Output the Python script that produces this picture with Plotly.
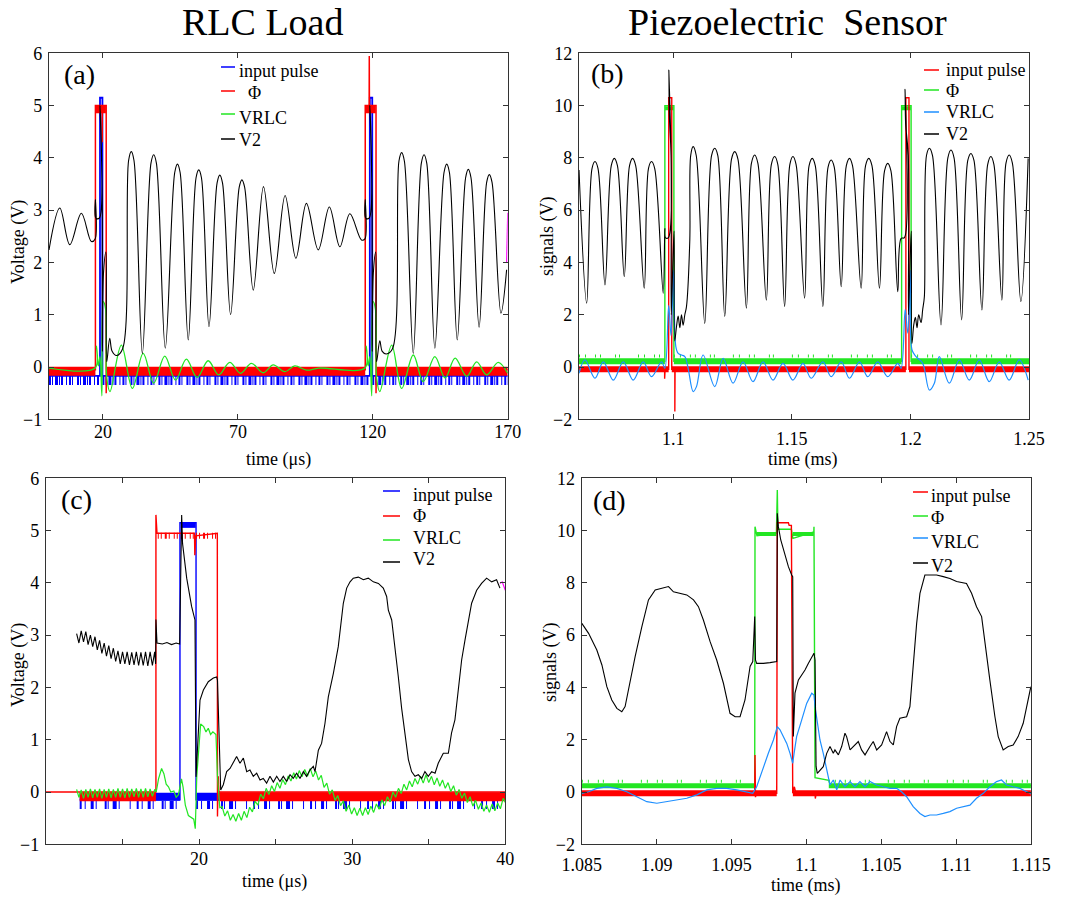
import plotly.graph_objects as go

FONT = "Liberation Serif, 'Times New Roman', Times, 'DejaVu Serif', serif"
W, H = 1070, 898

BLUE = "#0000ff"
RED = "#ff0000"
GREEN = "#22e622"
SKY = "#1e8fff"
BLACK = "#000000"
MAGENTA = "#ff00ff"

# ---------------------------------------------------------------- panel (a)
# RLC load, time in microseconds
a_v2_t = [0.0, 4.0, 7.7, 12.0, 15.7, 17.1, 17.2, 17.35, 18.7, 18.9, 19.7, 19.8, 20.2, 21.1,
          21.4, 22.5, 23.4, 25.0, 27.3, 29.5, 30.5, 31.5, 34.6, 37.8, 38.8, 39.8, 43.1, 46.6,
          47.6, 48.6, 51.6, 54.5, 55.5, 56.5, 59.3, 62.3, 63.3, 64.3, 67.3, 70.5, 71.5, 72.5,
          75.7, 79.5, 83.5, 87.5, 91.5, 95.4, 99.8, 103.9, 107.8, 111.5, 115.8,
          117.1, 117.2, 117.35, 118.7, 118.9, 119.7, 119.8, 120.2, 121.1, 121.4, 122.6, 123.5,
          125.0, 127.3, 129.7, 130.7, 131.7, 135.0, 138.0, 139.0, 140.0, 143.0, 146.4, 147.4,
          148.4, 151.3, 154.4, 155.4, 156.4, 159.4, 162.2, 163.2, 164.2, 167.5, 169.6]
a_v2_v = [2.24, 3.04, 2.34, 2.94, 2.40, 2.45, 3.2, 2.85, 2.85, 5.0, 3.3, 0.3, 1.8, 2.2,
          0.1, 0.55, 0.3, 0.22, 0.35, 3.95, 4.12, 3.95, 0.26, 3.9, 4.06, 3.9, 0.36, 3.72,
          3.88, 3.72, 0.52, 3.62, 3.77, 3.62, 0.77, 3.52, 3.67, 3.52, 1.00, 3.44, 3.58, 3.44,
          1.47, 3.45, 1.79, 3.28, 2.08, 3.13, 2.24, 3.06, 2.30, 2.93, 2.43,
          2.45, 3.2, 2.85, 2.85, 5.0, 3.3, 0.3, 1.8, 2.2, 0.1, 0.5, 0.3,
          0.25, 0.35, 3.94, 4.10, 3.94, 0.26, 3.9, 4.06, 3.9, 0.36, 3.72, 3.88,
          3.72, 0.52, 3.62, 3.78, 3.62, 0.76, 3.53, 3.68, 3.53, 1.03, 1.86]
a_tail_t = [169.6, 170.0]
a_tail_v = [2.0, 2.95]

a_vrlc_t = [0.0, 17.1, 17.6, 18.3, 18.9, 19.6, 20.1, 21.0, 21.4, 22.6, 26.8, 30.9, 34.9, 38.8,
            42.9, 46.9, 50.9, 54.9, 59.0, 62.9, 67.0, 71.0, 75.0, 79.4, 83.1, 87.4, 91.1, 95.5,
            100.0, 117.1, 117.6, 118.3, 118.9, 119.6, 120.1, 121.0, 121.4, 122.6, 127.0, 130.7,
            135.0, 138.7, 143.0, 146.8, 150.5, 154.8, 158.5, 162.2, 166.5, 170.0]
a_vrlc_v = [-0.02, -0.02, 0.4, 0.02, 0.2, -0.55, 1.25, 1.1, -0.2, -0.47, 0.42, -0.41, 0.26, -0.31,
            0.21, -0.25, 0.15, -0.2, 0.12, -0.15, 0.09, -0.12, 0.07, -0.11, 0.04, -0.09, 0.02, -0.06,
            -0.02, -0.02, 0.4, 0.02, 0.2, -0.55, 1.25, 1.1, -0.2, -0.47, 0.42, -0.41,
            0.23, -0.28, 0.2, -0.21, 0.17, -0.18, 0.1, -0.15, 0.09, -0.12]

a_phi_t = [0.0, 17.2, 17.2, 19.7, 19.72, 19.76, 21.2, 21.2, 21.25, 21.3, 117.2, 117.2, 118.65,
           118.7, 118.75, 121.2, 121.2, 121.25, 121.3, 170.0]
a_phi_v = [-0.05, -0.05, 5.0, 5.0, 4.3, 5.0, 5.0, -0.5, 0.3, -0.05, -0.05, 5.0, 5.0,
           5.95, 5.0, 5.0, -0.5, 0.3, -0.05, -0.05]
a_phi_low = -0.08
a_phi_low_spans = [(0.0, 17.2), (21.3, 117.2), (121.3, 170.0)]
a_phi_high = 4.93
a_phi_high_spans = [(17.4, 21.1), (117.4, 121.1)]

a_in_t = [0.0, 18.9, 18.9, 19.8, 19.8, 118.9, 118.9, 119.8, 119.8, 170.0]
a_in_v = [-0.17, -0.17, 5.15, 5.15, -0.17, -0.17, 5.15, 5.15, -0.17, -0.17]
a_in_noise = -0.26
a_in_noise_spans = [(0.0, 18.9), (19.8, 118.9), (119.8, 170.0)]

# ---------------------------------------------------------------- panel (b)
# piezoelectric sensor, time in milliseconds
b_v2_t = [1.06031, 1.06353, 1.0658, 1.06704, 1.0683, 1.07125, 1.0739, 1.07518, 1.0765, 1.07938,
          1.0816, 1.08289, 1.0842, 1.0878, 1.0896, 1.09088, 1.0922, 1.09579,
          1.09649, 1.0967, 1.0980, 1.09818, 1.0984, 1.0991, 1.09918, 1.1000, 1.1004, 1.10065,
          1.1014, 1.1021, 1.1028, 1.1035, 1.1042, 1.10491, 1.10561, 1.10701, 1.1074, 1.10842,
          1.1097, 1.11332, 1.1162, 1.11753, 1.1188, 1.12174, 1.1246, 1.12595, 1.1273, 1.13086,
          1.1330, 1.13436, 1.1357, 1.13927, 1.1414, 1.14278, 1.1441, 1.14698, 1.1492, 1.15049,
          1.1518, 1.1554, 1.1573, 1.15862, 1.1599, 1.16311, 1.1653, 1.16662, 1.1679, 1.17083,
          1.1730, 1.17433, 1.1756, 1.17924, 1.1811, 1.18247, 1.1838, 1.18696, 1.1891, 1.19046,
          1.1918, 1.19467,
          1.19607, 1.1975, 1.19775, 1.1980, 1.1991, 1.19918, 1.2000, 1.2004, 1.20065, 1.2014,
          1.2021, 1.2028, 1.2035, 1.20449, 1.20519, 1.20589, 1.2068, 1.208, 1.2093, 1.2129,
          1.2158, 1.21711, 1.2184, 1.2216, 1.2242, 1.22552, 1.2268, 1.23015, 1.2326, 1.23394,
          1.2352, 1.23857, 1.2403, 1.24165, 1.2430, 1.24656, 1.24964]
b_v2_v = [7.54, 2.44, 7.6, 7.86, 7.6, 3.14, 7.7, 7.98, 7.7, 3.46,
          7.7, 7.98, 7.7, 3.01, 7.6, 7.86, 7.6, 2.82,
          5.3, 4.95, 4.95, 11.36, 9.6, 8.1, 2.0, 4.4, 5.2, 1.0,
          1.55, 1.95, 1.5, 2.0, 1.6, 2.0, 2.31, 4.86, 8.1, 8.43,
          8.1, 1.67, 8.1, 8.37, 8.1, 1.93, 7.95, 8.24, 7.95, 2.25,
          7.8, 8.11, 7.8, 2.56, 7.75, 8.05, 7.75, 2.31, 7.75, 8.05,
          7.75, 2.63, 7.7, 7.98, 7.7, 2.31, 7.65, 7.92, 7.65, 3.07,
          7.7, 7.98, 7.7, 3.01, 7.7, 7.98, 7.7, 3.01, 7.5, 7.79,
          7.5, 2.88,
          4.92, 4.95, 10.62, 9.3, 8.1, 2.0, 4.4, 5.2, 0.9, 1.6,
          1.9, 1.5, 2.0, 1.7, 2.2, 2.69, 8.1, 8.37, 8.1, 1.61,
          8.0, 8.3, 8.0, 1.8, 7.9, 8.17, 7.9, 2.18, 7.75, 8.05,
          7.75, 2.56, 7.8, 8.11, 7.8, 2.5, 7.98]

b_vrlc_t = [1.06031, 1.06283, 1.06704, 1.07055, 1.07476, 1.07896, 1.08317, 1.08738, 1.09088, 1.09509,
            1.09649, 1.0981, 1.0991, 1.1002, 1.10112, 1.1021, 1.10351, 1.10491, 1.10631, 1.10842,
            1.10982, 1.11262, 1.11753, 1.12104, 1.12525, 1.12945, 1.13366, 1.13787, 1.14208, 1.14628,
            1.15049, 1.1547, 1.1582, 1.16311, 1.16662, 1.17083, 1.17433, 1.17854, 1.18205, 1.18625,
            1.19046, 1.19467, 1.19607, 1.1978, 1.1989, 1.2000, 1.2007, 1.20238, 1.20519, 1.208,
            1.2101, 1.2122, 1.21641, 1.22062, 1.22482, 1.22903, 1.23324, 1.23745, 1.24165, 1.24586,
            1.24964]
b_vrlc_v = [-0.24, 0.27, -0.43, 0.2, -0.5, 0.2, -0.5, 0.2, -0.37, 0.2,
            -0.05, 2.35, 1.2, 3.7, 0.78, 0.52, 0.46, 0.4, -0.05, -0.94,
            -0.75, 0.46, -0.75, 0.33, -0.62, 0.2, -0.56, 0.2, -0.5, 0.14,
            -0.5, 0.14, -0.43, 0.2, -0.37, 0.2, -0.43, 0.2, -0.37, 0.2,
            -0.37, 0.14, -0.05, 2.2, 1.3, 3.7, 0.65, 0.4, 0.14, -0.88,
            -0.62, 0.4, -0.62, 0.27, -0.5, 0.27, -0.56, 0.2, -0.5, 0.27,
            -0.5]

b_phi_t = [1.06031, 1.0965, 1.0965, 1.1003, 1.1003, 1.1963, 1.1963, 1.2003, 1.2003, 1.25]
b_phi_v = [0.22, 0.22, 10.0, 10.0, 0.22, 0.22, 10.0, 10.0, 0.22, 0.22]
b_phi_low = 0.22
b_phi_low_spans = [(1.06031, 1.0965), (1.1003, 1.1963), (1.2003, 1.25)]
b_phi_high = 9.9
b_phi_high_spans = [(1.0966, 1.1002), (1.1964, 1.2002)]

b_in_t = [1.06031, 1.0964, 1.0964, 1.0966, 1.0981, 1.0981, 1.0994, 1.0994, 1.1007, 1.1007, 1.1008,
          1.1981, 1.1981, 1.1994, 1.1994, 1.25]
b_in_v = [-0.09, -0.09, -0.45, -0.09, -0.09, 10.3, 10.3, -0.09, -0.09, -1.7, -0.09,
          -0.09, 10.3, 10.3, -0.09, -0.09]
b_in_low = -0.09
b_in_low_spans = [(1.06031, 1.0981), (1.0994, 1.1981), (1.1994, 1.25)]

# ---------------------------------------------------------------- panel (c)
# RLC load, detail around the first pulse (microseconds)
c_v2_t = [12.0, 12.15, 12.3, 12.45, 12.6, 12.75, 12.9, 13.05, 13.2, 13.35, 13.5, 13.65, 13.8, 13.95,
          14.1, 14.25, 14.4, 14.55, 14.7, 14.85, 15.0, 15.15, 15.3, 15.45, 15.6, 15.75, 15.9, 16.05,
          16.2, 16.35, 16.5, 16.65, 16.8, 16.95, 17.1, 17.16, 17.18, 17.25, 17.6, 17.9, 18.2, 18.5,
          18.73, 18.86, 18.92, 19.19, 19.51, 19.73, 19.8, 19.95, 20.06, 20.28, 20.6, 20.93, 21.15,
          21.2, 21.26, 21.41, 21.58, 21.80, 22.02, 22.24, 22.45, 22.67, 22.89, 23.11, 23.32, 23.54,
          23.76, 23.98, 24.19, 24.41, 24.63, 24.85, 25.07, 25.28, 25.50, 25.72, 25.94, 26.15, 26.37,
          26.59, 26.81, 27.02, 27.24, 27.46, 27.57, 27.79, 28.00, 28.22, 28.44, 28.77, 29.09, 29.42,
          29.64, 29.86, 30.07, 30.40, 30.73, 31.05, 31.38, 31.71, 32.03, 32.25, 32.36, 32.58, 32.79,
          33.01, 33.23, 33.45, 33.67, 33.88, 34.10, 34.32, 34.54, 34.75, 34.97, 35.19, 35.41, 35.62,
          35.95, 36.28, 36.49, 36.71, 36.93, 37.15, 37.37, 37.58, 37.80, 38.13, 38.45, 38.78, 39.11,
          39.43, 39.65]
c_v2_v = [3.03, 2.85, 3.08, 2.87, 3.07, 2.82, 3.0, 2.78, 2.97, 2.72, 2.9, 2.65, 2.85, 2.6,
          2.8, 2.55, 2.75, 2.5, 2.7, 2.45, 2.68, 2.45, 2.68, 2.43, 2.67, 2.43, 2.68, 2.42,
          2.67, 2.42, 2.68, 2.41, 2.68, 2.42, 2.68, 2.45, 3.3, 2.85, 2.83, 2.86, 2.82, 2.85,
          2.83, 5.3, 4.75, 4.09, 3.55, 3.29, 0.29, 1.25, 1.76, 1.95, 2.11, 2.18, 2.2,
          2.14, 1.4, 0.04, 0.14, 0.39, 0.45, 0.58, 0.68, 0.55, 0.65, 0.39, 0.42, 0.30,
          0.36, 0.23, 0.26, 0.17, 0.30, 0.19, 0.30, 0.20, 0.30, 0.20, 0.33, 0.26, 0.36,
          0.26, 0.39, 0.30, 0.42, 0.49, 0.39, 0.80, 0.93, 1.31, 1.82, 2.27, 2.78, 3.61,
          3.90, 4.02, 4.09, 4.11, 4.06, 4.09, 4.02, 3.99, 3.90, 3.74, 3.48, 3.29, 2.81,
          2.21, 1.60, 1.13, 0.62, 0.39, 0.30, 0.33, 0.26, 0.39, 0.30, 0.39, 0.36, 0.55,
          0.74, 0.74, 1.13, 1.38, 2.02, 2.53, 2.91, 3.29, 3.61, 3.86, 3.99, 4.09, 4.02,
          4.06, 3.90]
c_tail_t = [39.65, 39.8, 40.0]
c_tail_v = [3.99, 4.02, 3.86]

c_vrlc_t = [12.0, 12.15, 12.3, 12.45, 12.6, 12.75, 12.9, 13.05, 13.2, 13.35, 13.5, 13.65, 13.8, 13.95,
            14.1, 14.25, 14.4, 14.55, 14.7, 14.85, 15.0, 15.15, 15.3, 15.45, 15.6, 15.75, 15.9, 16.05,
            16.2, 16.35, 16.5, 16.65, 16.8, 16.95, 17.1, 17.2, 17.35, 17.55, 17.7, 17.85, 18.0, 18.15,
            18.35, 18.5, 18.65, 18.85, 18.95, 19.1, 19.3, 19.5, 19.65, 19.75, 19.85, 20.0, 20.1, 20.3,
            20.45, 20.6, 20.75, 20.9, 21.1, 21.2, 21.35,
            21.50, 21.68, 21.86, 22.04, 22.22, 22.40, 22.58, 22.76, 22.94, 23.12, 23.30, 23.48, 23.66,
            23.84, 24.02, 24.20, 24.38, 24.56, 24.74, 24.92, 25.10, 25.28, 25.46, 25.64, 25.82, 26.00,
            26.18, 26.36, 26.54, 26.72, 26.90, 27.08, 27.26, 27.44, 27.62, 27.80, 27.98, 28.16, 28.34,
            28.52, 28.70, 28.88, 29.06, 29.24, 29.42, 29.60, 29.78, 29.96, 30.14, 30.32, 30.50, 30.68,
            30.86, 31.04, 31.22, 31.40, 31.58, 31.76, 31.94, 32.12, 32.30, 32.48, 32.66, 32.84, 33.02,
            33.20, 33.38, 33.56, 33.74, 33.92, 34.10, 34.28, 34.46, 34.64, 34.82, 35.00, 35.18, 35.36,
            35.54, 35.72, 35.90, 36.08, 36.26, 36.44, 36.62, 36.80, 36.98, 37.16, 37.34, 37.52, 37.70,
            37.88, 38.06, 38.24, 38.42, 38.60, 38.78, 38.96, 39.14, 39.32, 39.50, 39.68, 39.86, 40.00]
c_vrlc_v = [0.05, -0.1, 0.04, -0.12, 0.05, -0.1, 0.06, -0.11, 0.05, -0.1, 0.06, -0.12, 0.05, -0.1,
            0.06, -0.11, 0.05, -0.1, 0.07, -0.1, 0.06, -0.11, 0.07, -0.1, 0.06, -0.09, 0.07, -0.1,
            0.06, -0.1, 0.07, -0.09, 0.06, -0.08, 0.05, 0.0, 0.25, 0.45, 0.35, 0.15, 0.1, 0.0,
            0.02, -0.1, -0.05, 0.25, 0.1, -0.25, -0.45, -0.5, -0.52, -0.7, 0.3, 0.9, 1.3, 1.25,
            1.15, 1.22, 1.1, 1.15, 1.1, 0.3, -0.3,
            -0.28, -0.46, -0.36, -0.54, -0.43, -0.56, -0.41, -0.54, -0.37, -0.49, -0.29, -0.38, -0.18,
            -0.25, -0.04, -0.13, 0.07, -0.05, 0.12, 0.01, 0.18, 0.07, 0.24, 0.14, 0.31, 0.21,
            0.37, 0.25, 0.41, 0.29, 0.43, 0.30, 0.45, 0.29, 0.40, 0.23, 0.32, 0.09, 0.17,
            -0.04, 0.04, -0.16, -0.07, -0.26, -0.17, -0.37, -0.25, -0.42, -0.30, -0.45, -0.31, -0.45,
            -0.30, -0.43, -0.27, -0.39, -0.23, -0.33, -0.15, -0.26, -0.09, -0.19, 0.0, -0.10, 0.07,
            -0.03, 0.15, 0.04, 0.21, 0.10, 0.26, 0.15, 0.30, 0.17, 0.33, 0.18, 0.30, 0.14,
            0.27, 0.11, 0.23, 0.07, 0.18, 0.01, 0.12, -0.06, 0.05, -0.12, -0.02, -0.20, -0.09,
            -0.27, -0.16, -0.33, -0.21, -0.37, -0.25, -0.39, -0.23, -0.36, -0.21, -0.32, -0.12, -0.20]

c_phi_t = [10.0, 17.18, 17.18, 17.25, 19.7, 19.72, 19.78, 21.19, 21.2, 21.25, 21.3, 40.0]
c_phi_v = [0.0, 0.0, 5.3, 4.95, 4.95, 4.53, 4.9, 4.95, -0.47, 0.3, 0.0, 0.0]
c_phi_low = -0.09
c_phi_low_spans = [(12.2, 17.18), (21.3, 40.0)]
c_phi_high = 4.9
c_phi_high_spans = [(17.3, 19.68), (19.8, 21.15)]

c_in_t = [12.2, 18.75, 18.75, 19.8, 19.8, 40.0]
c_in_v = [-0.15, -0.15, 5.15, 5.15, -0.15, -0.15]
c_in_low = -0.09
c_in_low_spans = [(12.2, 18.75), (19.8, 40.0)]
c_in_noise = -0.25
c_in_high = 5.1
c_in_high_spans = [(18.8, 19.78)]

# ---------------------------------------------------------------- panel (d)
# piezoelectric sensor, detail around the first pulse (milliseconds)
d_v2_t = [1.0850, 1.08545, 1.0860, 1.08634, 1.08667, 1.0870, 1.08734, 1.08767, 1.08789, 1.08823,
          1.08856, 1.08901, 1.08945, 1.0899, 1.09034, 1.09079, 1.09112, 1.09157, 1.09201, 1.09246,
          1.09279, 1.09312, 1.09357, 1.09401, 1.09446, 1.0949, 1.09524, 1.09557, 1.0959, 1.09624,
          1.09642, 1.09655, 1.0966, 1.09668, 1.09713, 1.09757, 1.09802, 1.09806, 1.09813, 1.09829,
          1.09858, 1.0988, 1.09902, 1.09909, 1.09913, 1.09924, 1.09947, 1.09969, 1.09991, 1.10013,
          1.10036, 1.10051, 1.10058, 1.10065, 1.10073, 1.10091, 1.10113, 1.10136, 1.10158, 1.1018,
          1.10191, 1.10214, 1.10236, 1.10258, 1.10269, 1.10292, 1.10314, 1.10347, 1.10369, 1.10392,
          1.10425, 1.10447, 1.1047, 1.10503, 1.10536, 1.10559, 1.10581, 1.10603, 1.10625, 1.1067,
          1.10692, 1.10714, 1.10737, 1.10759, 1.10792, 1.10826, 1.1087, 1.10915, 1.10959, 1.11004,
          1.1107, 1.11104, 1.11137, 1.11171, 1.11193, 1.11226, 1.1126, 1.11282, 1.11315, 1.11349,
          1.11382, 1.11415, 1.11449, 1.11482, 1.115]
d_v2_v = [6.45, 6.07, 5.43, 4.86, 4.03, 3.52, 3.20, 3.07, 3.27, 4.29,
          5.18, 6.33, 7.35, 7.73, 7.79, 7.86, 7.66, 7.60, 7.54, 7.35,
          7.09, 6.58, 5.75, 5.05, 4.16, 3.01, 2.88, 2.88, 3.52, 4.80,
          4.99, 6.71, 5.05, 4.92, 4.92, 4.95, 4.99, 10.66, 10.15, 9.64,
          9.0, 8.62, 8.30, 8.24, 2.12, 3.78, 4.29, 4.48, 4.67, 4.92,
          5.18, 5.31, 5.05, 0.98, 0.71, 0.84, 0.97, 1.48, 1.74, 1.48,
          1.61, 1.42, 1.74, 2.25, 2.12, 1.61, 1.74, 1.93, 1.61, 1.42,
          1.74, 1.93, 1.61, 1.80, 2.31, 1.93, 1.80, 2.50, 2.82, 2.88,
          3.27, 4.92, 6.45, 7.60, 8.30, 8.30, 8.30, 8.24, 8.17, 8.05,
          7.98, 7.60, 7.09, 6.71, 5.82, 4.29, 2.88, 2.12, 1.61, 1.74,
          1.80, 2.12, 2.63, 3.52, 4.03]

d_vrlc_t = [1.0850, 1.08545, 1.0860, 1.08667, 1.08734, 1.0880, 1.08867, 1.08934, 1.09001, 1.09068,
            1.09134, 1.09201, 1.09268, 1.09335, 1.09401, 1.09468, 1.09535, 1.09602, 1.09642, 1.09668,
            1.09691, 1.09713, 1.09746, 1.0978, 1.09806, 1.09824, 1.09846, 1.09869, 1.09891, 1.09909,
            1.09918, 1.09935, 1.09969, 1.10002, 1.10036, 1.10051, 1.10058, 1.10073, 1.10091, 1.10113,
            1.10136, 1.10158, 1.1018, 1.10203, 1.10225, 1.10258, 1.10292, 1.10325, 1.10358, 1.10392,
            1.10425, 1.1047, 1.10514, 1.10559, 1.10603, 1.10636, 1.1067, 1.10714, 1.10759, 1.10792,
            1.10826, 1.1087, 1.10915, 1.10959, 1.11004, 1.11048, 1.11093, 1.11137, 1.11182, 1.11226,
            1.11271, 1.11304, 1.11338, 1.11382, 1.11427, 1.11471, 1.115]
d_vrlc_v = [-0.05, 0.01, 0.14, 0.2, 0.14, 0.01, -0.18, -0.37, -0.43, -0.37,
            -0.30, -0.24, -0.11, 0.08, 0.14, 0.14, 0.08, 0.01, -0.05, 0.2,
            0.59, 0.97, 1.48, 1.99, 2.5, 2.38, 2.12, 1.86, 1.48, 1.1,
            1.48, 2.12, 2.76, 3.39, 3.78, 3.71, 3.27, 2.63, 1.99, 1.48,
            0.84, 0.27, 0.46, 0.08, 0.46, 0.2, 0.4, 0.2, 0.4, 0.2,
            0.4, 0.27, 0.2, 0.14, 0.14, 0.01, -0.18, -0.56, -0.82, -0.94,
            -0.88, -0.88, -0.82, -0.75, -0.62, -0.56, -0.5, -0.24, -0.05, 0.2,
            0.4, 0.46, 0.27, 0.2, 0.14, 0.01, -0.05]

d_phi_t = [1.085, 1.09655, 1.09657, 1.0967, 1.0980, 1.09806, 1.0981, 1.0990, 1.0991, 1.1005,
           1.10051, 1.10058, 1.1015, 1.1016, 1.115]
d_phi_v = [0.24, 0.24, 10.15, 9.8, 9.9, 11.55, 10.05, 10.05, 9.7, 9.95,
           10.15, 0.55, 0.45, 0.25, 0.25]
d_phi_low = 0.24
d_phi_low_spans = [(1.085, 1.09655), (1.1015, 1.115)]
d_phi_high = 9.87
d_phi_high_spans = [(1.0967, 1.0980), (1.0991, 1.1005)]

d_in_t = [1.085, 1.09655, 1.09657, 1.0966, 1.09665, 1.09802, 1.09806, 1.0988, 1.09885, 1.0990,
          1.09909, 1.0992, 1.0993, 1.10058, 1.1006, 1.10065, 1.115]
d_in_v = [-0.05, -0.05, 1.42, -0.2, -0.05, -0.05, 10.3, 10.3, 10.2, 10.2,
          -0.05, 0.2, -0.05, -0.05, -0.25, -0.05, -0.05]
d_in_low = -0.05
d_in_low_spans = [(1.085, 1.09802), (1.0991, 1.115)]

# ---------------------------------------------------------------- figure
PANEL_BOX = {  # left, top, right, bottom in page pixels
    1: (49, 53.3, 507.7, 419.3),
    2: (579, 53.3, 1029, 419.3),
    3: (46, 478.3, 505.3, 844.3),
    4: (581.7, 478.3, 1031, 844.3),
}

fig = go.Figure()


def axref(n):
    return ("x", "y") if n == 1 else (f"x{n}", f"y{n}")


def add_line(n, x, y, color, width=1.2, shape="linear", dash=None):
    xa, ya = axref(n)
    fig.add_trace(go.Scatter(
        x=x, y=y, mode="lines", xaxis=xa, yaxis=ya, showlegend=False, hoverinfo="skip",
        line=dict(color=color, width=width, shape=shape, smoothing=1.0 if shape == "spline" else None,
                  dash=dash)))


def add_band(n, spans, level, color, width, dash=None):
    xs, ys = [], []
    for x0, x1 in spans:
        xs += [x0, x1, None]
        ys += [level, level, None]
    add_line(n, xs, ys, color, width=width, dash=dash)


TICKS_DENSE = "2px,1px,1px,2px,3px,1px,1px,1px,2px,3px,1px,2px,2px,1px,1px,4px"
TICKS_SPARSE = "2px,3px,1px,5px,3px,2px,1px,8px,2px,1px,1px,4px,4px,2px,1px,10px,1px,6px"
TICKS_GREEN = "1px,5px,1px,9px,1px,4px,1px,14px,1px,3px,1px,18px"
COMB = "1px,2px,1px,3px,2px,2px,1px,4px"

# (a)
add_band(1, a_in_noise_spans, a_in_noise, BLUE, 9, dash=TICKS_DENSE)
add_line(1, a_in_t, a_in_v, BLUE, width=1.8)
add_band(1, a_phi_low_spans, a_phi_low, RED, 9)
add_band(1, a_phi_high_spans, a_phi_high, RED, 8)
add_line(1, a_phi_t, a_phi_v, RED, width=1.5)
add_line(1, a_vrlc_t, a_vrlc_v, GREEN, width=1.3, shape="spline")
add_line(1, a_v2_t, a_v2_v, BLACK, width=1.1, shape="spline")
add_line(1, a_tail_t, a_tail_v, MAGENTA, width=1.2)

# (b)
add_band(2, b_in_low_spans, b_in_low, RED, 6)
add_band(2, b_phi_low_spans, b_phi_low, GREEN, 6)
add_band(2, b_phi_low_spans, b_phi_low + 0.2, GREEN, 3, dash=TICKS_GREEN)
add_band(2, b_phi_high_spans, b_phi_high, GREEN, 4)
add_line(2, b_phi_t, b_phi_v, GREEN, width=1.4)
add_line(2, b_in_t, b_in_v, RED, width=1.4)
add_line(2, b_vrlc_t, b_vrlc_v, SKY, width=1.2, shape="spline")
add_line(2, b_v2_t, b_v2_v, BLACK, width=1.1, shape="spline")

# (c)
add_band(3, c_in_low_spans, c_in_low, BLUE, 8)
add_band(3, c_in_low_spans, c_in_noise, BLUE, 8, dash=TICKS_SPARSE)
add_band(3, c_in_high_spans, c_in_high, BLUE, 5)
add_line(3, c_in_t, c_in_v, BLUE, width=1.4)
add_band(3, c_phi_low_spans, c_phi_low, RED, 9)
add_band(3, c_phi_high_spans, c_phi_high, RED, 6, dash=COMB)
add_line(3, c_phi_t, c_phi_v, RED, width=1.4)
add_line(3, c_vrlc_t, c_vrlc_v, GREEN, width=1.2)
add_line(3, c_v2_t, c_v2_v, BLACK, width=1.1)
add_line(3, c_tail_t, c_tail_v, MAGENTA, width=1.2)

# (d)
add_band(4, d_in_low_spans, d_in_low, RED, 6)
add_band(4, d_phi_low_spans, d_phi_low, GREEN, 5)
add_band(4, d_phi_low_spans, d_phi_low + 0.17, GREEN, 3, dash=TICKS_GREEN)
add_band(4, d_phi_high_spans, d_phi_high, GREEN, 4)
add_line(4, d_phi_t, d_phi_v, GREEN, width=1.4)
add_line(4, d_in_t, d_in_v, RED, width=1.4)
add_line(4, d_vrlc_t, d_vrlc_v, SKY, width=1.2)
add_line(4, d_v2_t, d_v2_v, BLACK, width=1.1)


def axis_style():
    return dict(showline=True, linecolor="#333", linewidth=1.3, mirror="ticks", ticks="inside",
                ticklen=5, tickwidth=1.2, tickcolor="#333", showgrid=False, zeroline=False,
                automargin=False, tickfont=dict(family=FONT, size=18, color="black"),
                fixedrange=True)


x_ranges = {1: [0, 170], 2: [1.0603, 1.25], 3: [10, 40], 4: [1.08499, 1.11501]}
y_ranges = {1: [-1, 6], 2: [-2, 12], 3: [-1, 6], 4: [-2, 12]}
x_ticks = {
    1: ([20, 70, 120, 170], ["20", "70", "120", "170"]),
    2: ([1.1, 1.15, 1.2, 1.25], ["1.1", "1.15", "1.2", "1.25"]),
    3: ([15, 20, 25, 30, 35, 40], ["", "20", "", "30", "", "40"]),
    4: ([1.085, 1.09, 1.095, 1.1, 1.105, 1.11, 1.115],
        ["1.085", "1.09", "1.095", "1.1", "1.105", "1.11", "1.115"]),
}
x_label_gap = {1: -4, 2: 3, 3: -2, 4: 4}
y_dtick = {1: 1, 2: 2, 3: 1, 4: 2}

layout = dict(width=W, height=H, margin=dict(l=0, r=0, t=0, b=0, autoexpand=False),
              plot_bgcolor="white", paper_bgcolor="white", showlegend=False)
for n, (l, t, r, b) in PANEL_BOX.items():
    suffix = "" if n == 1 else str(n)
    xa, ya = axref(n)
    xs = axis_style()
    xs.update(domain=[l / W, r / W], range=x_ranges[n], tickmode="array",
              tickvals=x_ticks[n][0], ticktext=x_ticks[n][1], anchor=ya,
              ticklabelstandoff=x_label_gap[n])
    ys = axis_style()
    ys.update(domain=[1 - b / H, 1 - t / H], range=y_ranges[n], dtick=y_dtick[n], tick0=0,
              anchor=xa, ticklabelstandoff=2)
    layout["xaxis" + suffix] = xs
    layout["yaxis" + suffix] = ys
fig.update_layout(**layout)


def px(x, y):
    return x / W, 1 - y / H


def text(x, y, s, size=18, xanchor="center", yanchor="middle", angle=0):
    xp, yp = px(x, y)
    fig.add_annotation(x=xp, y=yp, xref="paper", yref="paper", text=s, showarrow=False,
                       xanchor=xanchor, yanchor=yanchor, textangle=angle, borderpad=0,
                       font=dict(family=FONT, size=size, color="black"))


# column titles
text(262, 0, "RLC Load", size=38, yanchor="top")
text(787, 0, "Piezoelectric  Sensor", size=38, yanchor="top")

# panel letters
text(63, 75, "(a)", size=28, xanchor="left")
text(590, 73, "(b)", size=28, xanchor="left")
text(60, 499, "(c)", size=28, xanchor="left")
text(592, 500, "(d)", size=28, xanchor="left")

# axis titles
text(278, 459, "time (μs)")
text(803, 459, "time (ms)")
text(275, 881, "time (μs)")
text(806, 885, "time (ms)")
text(18, 242, "Voltage (V)", angle=-90)
text(547, 236, "signals (V)", angle=-90)
text(18, 665, "Voltage (V)", angle=-90)
text(550, 662, "signals (V)", angle=-90)

# legends: (line x0, line x1, text x, [(line y, text y, label, color)])
legends = [
    (221, 235, 238, [(67, 71, "input pulse", BLUE), (91, 93, "Φ", RED),
                     (114, 118, "VRLC", GREEN), (139, 140, "V2", BLACK)]),
    (924, 939, 945, [(70, 70, "input pulse", RED), (90, 91, "Φ", GREEN),
                     (112, 112, "VRLC", SKY), (134, 134, "V2", BLACK)]),
    (383, 400, 412, [(491, 495, "input pulse", BLUE), (516, 516, "Φ", RED),
                     (540, 538, "VRLC", GREEN), (562, 559, "V2", BLACK)]),
    (913, 928, 930, [(492, 496, "input pulse", RED), (516, 518, "Φ", GREEN),
                     (538, 542, "VRLC", SKY), (563, 566, "V2", BLACK)]),
]
for lx0, lx1, tx, rows in legends:
    for ly, ty, label, color in rows:
        x0, y0 = px(lx0, ly)
        x1, _ = px(lx1, ly)
        fig.add_shape(type="line", xref="paper", yref="paper", x0=x0, x1=x1, y0=y0, y1=y0,
                      line=dict(color=color, width=1.5))
        offset = 9 if (label == "Φ" and color == RED and tx < 300) else 0
        text(tx + offset, ty, label, xanchor="left")

fig.write_html("out.html", config={"responsive": False})
